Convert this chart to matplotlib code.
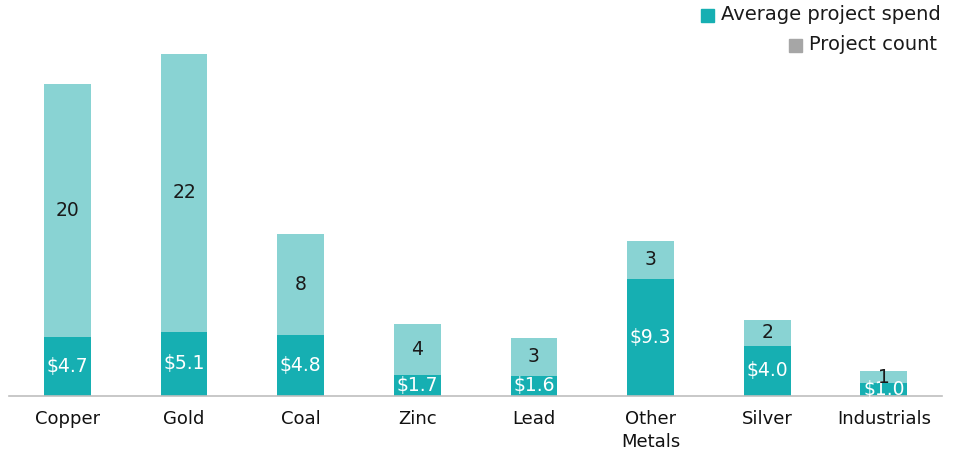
import matplotlib.pyplot as plt
from matplotlib.patches import Rectangle

categories = ['Copper', 'Gold', 'Coal', 'Zinc', 'Lead', 'Other\nMetals', 'Silver', 'Industrials']
avg_spend = [4.7, 5.1, 4.8, 1.7, 1.6, 9.3, 4.0, 1.0]
project_count = [20, 22, 8, 4, 3, 3, 2, 1]

dark = '#16AFB2'
light = '#89D3D3'
grey = '#A6A6A6'

plt.rcParams['font.family'] = 'DejaVu Sans'

fig = plt.figure(figsize=(9.56, 4.57), dpi=100)
ax = fig.add_axes([0.0095, 0.1335, 0.976, 0.845])

x = list(range(len(categories)))
ax.bar(x, avg_spend, width=0.40, color=dark, edgecolor='none')
ax.bar(x, project_count, width=0.40, bottom=avg_spend, color=light, edgecolor='none')

for i in x:
    ax.text(i, avg_spend[i] / 2, '$%.1f' % avg_spend[i], ha='center', va='center',
            color='white', fontsize=13.5)
    ax.text(i, avg_spend[i] + project_count[i] / 2, str(project_count[i]), ha='center',
            va='center', color='#1a1a1a', fontsize=13.5)

ax.set_xlim(-0.5, 7.5)
ax.set_ylim(0, 30.6)
ax.set_xticks(x)
ax.set_xticklabels(categories, fontsize=13, color='#111111', linespacing=1.4)
ax.tick_params(axis='x', length=0, pad=10)
ax.set_yticks([])
for s in ['top', 'left', 'right']:
    ax.spines[s].set_visible(False)
ax.spines['bottom'].set_color('#BFBFBF')
ax.spines['bottom'].set_linewidth(1.2)

# legend, right aligned rows, square just left of each text
W, H = 956, 457
legend_rows = [('Average project spend', 941, 15, dark),
               ('Project count', 937, 45, grey)]
fig.canvas.draw()
renderer = fig.canvas.get_renderer()
for label, xr, yc, col in legend_rows:
    t = fig.text(xr / W, 1 - yc / H, label, ha='right', va='center',
                 fontsize=14, color='#1a1a1a')
    bb = t.get_window_extent(renderer=renderer)
    fig.patches.append(Rectangle(((bb.x0 - 20) / W, 1 - (yc + 7) / H), 13 / W, 13 / H,
                                 color=col, transform=fig.transFigure, figure=fig))

fig.savefig('out.png', dpi=100)
